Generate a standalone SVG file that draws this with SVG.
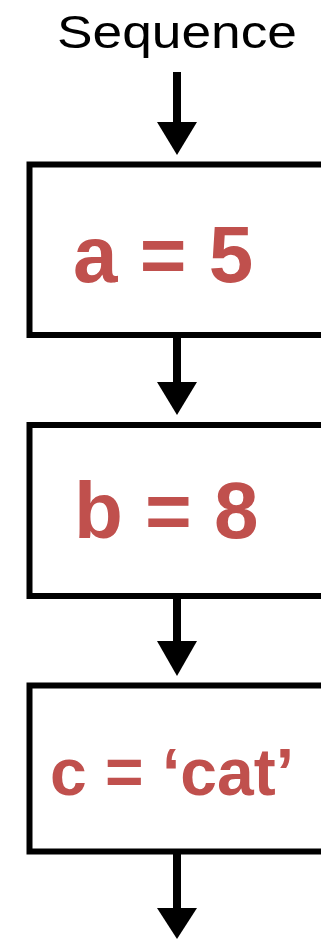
<svg xmlns="http://www.w3.org/2000/svg" width="321" height="939" viewBox="0 0 321 939">
<style>
.box{fill:#fff;stroke:#000;stroke-width:6}
.lbl{font-family:"Liberation Sans",Arial,sans-serif;font-weight:bold;fill:#C0504D}
.ttl{font-family:"Liberation Sans",Arial,sans-serif;fill:#000}
.ln{stroke:#000;stroke-width:8;fill:none}
.hd{fill:#000}
</style>
<rect width="321" height="939" fill="#fff"/>
<text class="ttl" x="57" y="48" font-size="47" textLength="240" lengthAdjust="spacingAndGlyphs">Sequence</text>
<g id="n1"><rect class="box" x="29.5" y="164.5" width="320" height="170.5"/><text class="lbl" x="73" y="282" font-size="80">a = 5</text></g>
<g id="n2"><rect class="box" x="29.5" y="425" width="320" height="171"/><text class="lbl" x="74" y="538" font-size="80">b = 8</text></g>
<g id="n3"><rect class="box" x="29.5" y="685.5" width="320" height="166"/><text class="lbl" x="50" y="795" font-size="66">c = ‘cat’</text></g>
<g id="connectors">
<line class="ln" x1="177" y1="72" x2="177" y2="124"/><polygon class="hd" points="157,122 197,122 177,155"/>
<line class="ln" x1="177" y1="336" x2="177" y2="384"/><polygon class="hd" points="157,382 197,382 177,415"/>
<line class="ln" x1="177" y1="597" x2="177" y2="644"/><polygon class="hd" points="157,641 197,641 177,676"/>
<line class="ln" x1="177" y1="852" x2="177" y2="910"/><polygon class="hd" points="157,908 197,908 177,939"/>
</g>
</svg>
